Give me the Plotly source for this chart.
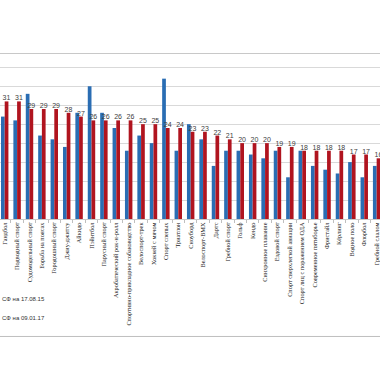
import plotly.graph_objects as go

categories = [
    "Гандбол", "Подводный спорт", "Судомодельный спорт", "Борьба на поясах",
    "Городошный спорт", "Джиу-джитсу", "Айкидо", "Пэйнтбол", "Парусный спорт",
    "Акробатический рок-н-ролл", "Спортивно-прикладное собаководство",
    "Велоспорт-трек", "Хоккей с мячом", "Спорт слепых", "Триатлон", "Сноуборд",
    "Велоспорт-BMX", "Дартс", "Гребной спорт", "Гольф", "Кендо",
    "Синхронное плавание", "Ездовой спорт", "Спорт сверхлегкой авиации",
    "Спорт лиц с поражением ОДА", "Современное пятиборье", "Фристайл",
    "Кёрлинг", "Водное поло", "Флорбол", "Гребной слалом",
]
values_2015 = [27, 26, 33, 22, 21, 19, 28, 35, 28, 24, 18, 22, 20, 37, 18, 25,
               21, 14, 18, 18, 17, 16, 18, 11, 18, 14, 13, 12, 15, 11, 14]
values_2017 = [31, 31, 29, 29, 29, 28, 27, 26, 26, 26, 26, 25, 25, 24, 24, 23,
               23, 22, 21, 20, 20, 20, 19, 19, 18, 18, 18, 18, 17, 17, 16]
legend_labels = ["СФ на 17.08.15", "СФ на 09.01.17"]

BLUE = "#2A6DB3"
RED = "#B0141F"

fig = go.Figure()
fig.add_trace(go.Bar(x=categories, y=values_2015, name=legend_labels[0],
                     marker=dict(color=BLUE, line=dict(width=0))))
fig.add_trace(go.Bar(x=categories, y=values_2017, name=legend_labels[1],
                     marker=dict(color=RED, line=dict(width=0)),
                     text=values_2017, textposition="outside",
                     textfont=dict(size=7, color="#404040", family="Liberation Sans"),
                     cliponaxis=False))

fig.update_layout(
    width=380, height=380,
    margin=dict(l=0, r=0, t=54, b=161, autoexpand=False),
    paper_bgcolor="white", plot_bgcolor="white",
    barmode="group", bargap=0.4, bargroupgap=0,
    showlegend=False,
    uniformtext=dict(minsize=5, mode="show"),
)
fig.update_xaxes(
    range=[-0.379, 30.27], tickangle=-90,
    tickfont=dict(size=6.3, family="Liberation Serif", color="#222222"),
    ticks="outside", tickson="boundaries", ticklen=3, tickcolor="#bfbfbf",
    showline=True, linecolor="#c8c8c8", linewidth=1, mirror=True,
    showgrid=False,
)
fig.update_yaxes(
    range=[0, 43.5], dtick=5, showticklabels=False,
    showgrid=True, gridcolor="#d9d9d9", gridwidth=1, zeroline=False,
)

for i, lab in enumerate(legend_labels):
    fig.add_annotation(text=lab, xref="paper", yref="paper", x=0, xanchor="left",
                       y=-0.482 - 0.115 * i, yanchor="middle", showarrow=False,
                       font=dict(size=6, family="Liberation Sans", color="#333333"))

fig.add_shape(type="line", xref="paper", yref="paper", x0=0, x1=1,
              y0=-0.712, y1=-0.712, line=dict(color="#bfbfbf", width=1))

fig.write_html("out.html",
               config={"displayModeBar": False, "staticPlot": True},
               post_script="document.body.style.margin='0';document.body.style.overflow='hidden';")
